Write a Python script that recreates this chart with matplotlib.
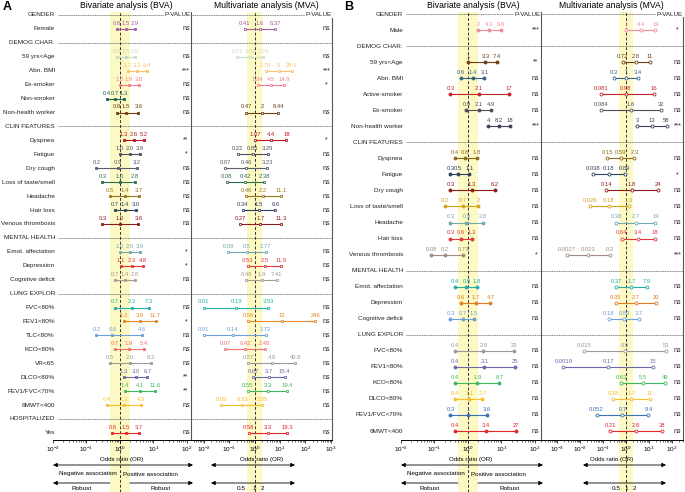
import numpy as np
import matplotlib
matplotlib.use("Agg")
from matplotlib import pyplot as plt
from matplotlib import transforms, ticker
from matplotlib.patches import Rectangle, FancyArrowPatch

plt.rcParams['font.family'] = ['Liberation Sans', 'DejaVu Sans']
plt.rcParams['mathtext.default'] = 'regular'

nan = np.nan

# ---------------- panel A ----------------
A_sections = ["GENDER", "DEMOG CHAR.", "CLIN FEATURES", "MENTAL HEALTH", "LUNG EXPLOR", "HOSPITALIZED"]
A_section_sizes = [1, 5, 7, 3, 8, 1]
A_vars = ["Female", "59 yrs<Age", "Abn. BMI", "Ex-smoker", "Non-smoker", "Non-health worker",
          "Dyspnea", "Fatigue", "Dry cough", "Loss of taste/smell", "Headache", "Hair loss",
          "Venous thrombosis", "Emot. affectation", "Depression", "Cognitive deficit",
          "FVC<80%", "FEV1<80%", "TLC<80%", "KCO<80%", "VR<65", "DLCO<80%", "FEV1/FVC<70%",
          "6MWT<400", "Yes"]
A_bva_low = [0.8, 0.8, 1.7, 1.0, 0.4, 0.8, 1.3, 1.0, 0.2, 0.3, 0.5, 0.7, 0.3, 1.0, 1.1, 0.7,
             0.7, 1.3, 0.2, 0.7, 0.5, 1.3, 1.4, 0.4, 0.6]
A_bva_or = [1.5, 1.5, 3.3, 1.9, 0.7, 1.5, 2.6, 2.0, 0.9, 1.0, 1.4, 1.4, 1.0, 2.0, 2.3, 1.4,
            2.3, 3.9, 0.6, 1.9, 2.0, 3.0, 4.1, 1.3, 1.5]
A_bva_high = [2.9, 2.9, 6.4, 3.8, 1.3, 3.6, 5.2, 3.9, 3.2, 2.8, 3.7, 3.0, 3.6, 3.9, 4.8, 2.8,
              7.3, 11.7, 4.6, 5.4, 8.3, 6.7, 11.6, 4.3, 3.7]
A_bva_p = ["ns", "ns", "***", "ns", "ns", "ns", "**", "*", "ns", "ns", "ns", "ns", "ns", "*", "*",
           "ns", "ns", "*", "ns", "ns", "ns", "**", "**", "ns", "ns"]
A_mva_low = [0.41, 0.21, 2.76, 1.34, nan, 0.47, 1.07, 0.22, 0.07, 0.08, 0.46, 0.34, 0.27, 0.09,
             0.53, 0.48, 0.01, 0.56, 0.01, 0.07, 0.57, 0.87, 0.55, 0.05, 0.58]
A_mva_or = [1.6, 0.68, 9, 4.5, nan, 2, 4.4, 0.85, 0.46, 0.42, 2.2, 1.5, 1.7, 0.5, 2.5, 1.9,
            0.19, 12, 0.14, 0.42, 4.8, 3.7, 3.3, 0.33, 3.3]
A_mva_high = [6.37, 2.24, 29.1, 14.9, nan, 8.44, 18, 3.29, 3.23, 2.38, 11.1, 6.6, 11.3, 2.77,
              11.5, 7.41, 3.53, 246, 2.72, 2.48, 40.8, 15.4, 19.4, 2.05, 19.3]
A_mva_p = ["ns", "ns", "***", "*", "", "ns", "*", "ns", "ns", "ns", "ns", "ns", "ns", "ns", "ns",
           "ns", "ns", "ns", "ns", "ns", "ns", "ns", "ns", "ns", "ns"]
A_colors = ['#a0609c', '#c6dcc2', '#f8c46a', '#f47f90', '#1d5e50', '#6e3f12', '#b8151f', '#4e4e5c',
            '#5c5c6e', '#2f6e4c', '#9a7420', '#2e4260', '#8c1c1c', '#74a9ad', '#e2383d', '#a99a91',
            '#23aea6', '#e5862a', '#6f9fd8', '#f46e6e', '#9b9b9b', '#6b6aa6', '#3dba5e', '#f6bd2c',
            '#e5262c']
A_bva_ticks = [1e-2, 1e-1, 1, 1e1, 1e2]
A_mva_ticks = [1e-2, 1e-1, 1, 1e1, 1e2, 1e3]

# ---------------- panel B ----------------
B_sections = ["GENDER", "DEMOG CHAR.", "CLIN FEATURES", "MENTAL HEALTH", "LUNG EXPLOR"]
B_section_sizes = [1, 5, 7, 3, 6]
B_vars = ["Male", "59 yrs<Age", "Abn. BMI", "Active-smoker", "Ex-smoker", "Non-health worker",
          "Dyspnea", "Fatigue", "Dry cough", "Loss of taste/smell", "Headache", "Hair loss",
          "Venous thrombosis", "Emot. affectation", "Depression", "Cognitive deficit",
          "FVC<80%", "FEV1<80%", "KCO<80%", "DLCO<80%", "FEV1/FVC<70%", "6MWT<400"]
B_bva_low = [2, 1, 0.6, 0.3, 0.9, 4, 0.4, 0.3, 0.3, 0.2, 0.3, 0.3, 0.08, 0.4, 0.6, 0.3,
             0.4, 0.4, 0.4, 0.4, 0.3, 0.4]
B_bva_or = [4.3, 3.3, 1.4, 2.1, 2.1, 8.2, 0.8, 0.5, 1.3, 0.7, 0.9, 0.6, 0.2, 0.9, 1.7, 0.7,
            2.9, 3.1, 1.9, 1.1, 1.0, 3.4]
B_bva_high = [9.6, 7.4, 3.1, 17, 4.9, 18, 1.8, 1.1, 6.2, 2, 2.8, 1.3, 0.73, 1.8, 4.7, 1.5,
              23, 25, 8.7, 2.7, 3.6, 27]
B_bva_p = ["***", "**", "ns", "ns", "ns", "***", "ns", "ns", "ns", "ns", "ns", "ns", "*", "ns",
           "ns", "ns", "ns", "ns", "ns", "ns", "ns", "ns"]
B_mva_low = [1, 0.72, 0.3, 0.081, 0.084, 3, 0.15, 0.038, 0.14, 0.026, 0.38, 0.64, 0.0027, 0.37,
             0.35, 0.18, 0.015, 0.0019, 0.63, 0.28, 0.052, 0.21]
B_mva_or = [4.4, 2.8, 1, 0.98, 1.6, 13, 0.59, 0.18, 1.8, 0.18, 2.7, 3.4, 0.023, 1.7, 2.7, 0.83,
            0.9, 0.17, 5.5, 1.7, 0.7, 2.8]
B_mva_high = [19, 11, 3.4, 16, 32, 58, 2.3, 0.89, 24, 1.3, 19, 18, 0.2, 7.9, 20, 3.7,
              53, 15, 49, 11, 9.4, 38]
B_mva_p = ["*", "ns", "ns", "ns", "ns", "***", "ns", "*", "ns", "ns", "ns", "ns", "***", "ns",
           "ns", "ns", "ns", "ns", "ns", "ns", "ns", "ns"]
B_colors = ['#f58a9b', '#6e3f12', '#3b6088', '#c4242a', '#4e4e58', '#3f3f58', '#8c6a16', '#2e4260',
            '#8c1c1c', '#d4a21a', '#74a9ad', '#e2383d', '#a08c82', '#23aea6', '#e07d22', '#6f9fd8',
            '#9b9b9b', '#6b6aa6', '#3dba5e', '#f6bd2c', '#3a72b2', '#e5262c']
B_bva_ticks = [1e-2, 1e-1, 1, 1e1, 1e2]
B_mva_ticks = [1e-3, 1e-2, 1e-1, 1, 1e1, 1e2]

W, H = 685, 492
AX_TOP, AX_BOT = 12, 440
BAND = '#fcf9c4'
LBL = 4.6
VAL = 4.2
PV = 5.0

fig = plt.figure(figsize=(W / 100, H / 100), dpi=100)


def px_axes(x0, x1):
    return fig.add_axes([x0 / W, 1 - AX_BOT / H, (x1 - x0) / W, (AX_BOT - AX_TOP) / H])


def ftext(x, y, s, **kw):
    fig.text(x / W, 1 - y / H, s, **kw)


def arrow(x0, x1, y, style):
    fig.add_artist(FancyArrowPatch(
        (x0 / W, 1 - y / H), (x1 / W, 1 - y / H), transform=fig.transFigure,
        arrowstyle=style, mutation_scale=6, lw=0.6, color='black', shrinkA=0, shrinkB=0))


def row_layout(sizes):
    heads, rows = [], []
    r = 0
    for n in sizes:
        heads.append(r)
        rows.extend(range(r + 1, r + 1 + n))
        r += n + 1
    return heads, rows


def minor_ticks(major, lim):
    out = []
    for d in range(int(np.floor(np.log10(lim[0]))), int(np.ceil(np.log10(lim[1])))):
        for k in range(2, 10):
            v = k * 10.0 ** d
            if lim[0] <= v <= lim[1]:
                out.append(v)
    return out


def setup(ax, lim, ylim, mva, xticks):
    ax.set_xscale('log')
    ax.set_facecolor('none')
    ax.set_yticks([])
    ax.xaxis.set_major_locator(ticker.FixedLocator(xticks))
    ax.xaxis.set_major_formatter(ticker.LogFormatterSciNotation())
    ax.xaxis.set_minor_locator(ticker.FixedLocator(minor_ticks(xticks, lim)))
    ax.xaxis.set_minor_formatter(ticker.NullFormatter())
    ax.tick_params(axis='x', which='major', labelsize=4.6, length=2, width=0.5, pad=1.2)
    ax.tick_params(axis='x', which='minor', length=1.2, width=0.4)
    ax.spines['top'].set_visible(False)
    for s in ['left', 'right']:
        ax.spines[s].set_visible(mva)
        ax.spines[s].set_color('#555555')
        ax.spines[s].set_linewidth(0.8)
    ax.spines['bottom'].set_linewidth(0.7)
    ax.set_xlabel('Odds ratio (OR)', fontsize=4.4, labelpad=2)
    # yellow band and reference line, running down to the figure bottom
    tr = transforms.blended_transform_factory(ax.transData, fig.transFigure)
    top = 1 - AX_TOP / H
    ax.add_patch(Rectangle((0.5, 0), 1.5, top, transform=tr, facecolor=BAND,
                           edgecolor='none', clip_on=False, zorder=0))
    ax.plot([1, 1], [0, top], transform=tr, color='#333333', lw=0.7,
            ls=(0, (3, 2)), clip_on=False, zorder=1)
    ax.set_xlim(*lim)
    ax.set_ylim(*ylim)


def forest(ax, rows, low, mid, high, pvals, colors, fmt, marker, filled, ms, px):
    ytr = transforms.blended_transform_factory(ax.transAxes, ax.transData)
    for r, lo, m, hi, p, c in zip(rows, low, mid, high, pvals, colors):
        if p:
            ax.text(px, r, p, transform=ytr, ha='center', va='center', fontsize=PV,
                    color='#222222')
        if np.isnan(m):
            continue
        ax.plot([lo, hi], [r, r], color=c, lw=0.8, zorder=3)
        ax.plot([lo, m, hi], [r, r, r], ls='none', marker=marker, ms=ms,
                mfc=c if filled else 'white', mec=c, mew=0.6, zorder=4)
        for v in (lo, m, hi):
            ax.annotate(fmt(v), (v, r), xytext=(0, 4.0), textcoords='offset points',
                        ha='center', va='center', fontsize=VAL, color=c, zorder=5)


def panel(letter, xs, lims, ticks, ylim, sections, sizes, names, colors, bva, mva,
          bva_fmt, marker, ms, title_x, arrows_mva, mva_lbl):
    x0, xm, x1 = xs
    ax_b = px_axes(x0, xm)
    ax_m = px_axes(xm, x1)
    setup(ax_b, lims[0], ylim, False, ticks[0])
    setup(ax_m, lims[1], ylim, True, ticks[1])
    heads, rows = row_layout(sizes)

    tb = transforms.blended_transform_factory(ax_b.transAxes, ax_b.transData)
    tm = transforms.blended_transform_factory(ax_m.transAxes, ax_m.transData)
    wb = xm - x0
    for r, s in zip(heads, sections):
        ax_b.text(2 / wb, r, s, transform=tb, ha='right', va='center', fontsize=LBL, color='#222222')
        ax_b.plot([5 / wb, 1], [r, r], transform=tb, color='#555555', lw=0.5,
                  ls=(0, (1.6, 0.9)), zorder=2, clip_on=False)
        ax_m.plot([0, 1], [r, r], transform=tm, color='#555555', lw=0.5,
                  ls=(0, (1.6, 0.9)), zorder=2, clip_on=False)
    for r, s in zip(rows, names):
        ax_b.text(2 / wb, r, s, transform=tb, ha='right', va='center', fontsize=LBL, color='#222222')
    for ax, tr in ((ax_b, tb), (ax_m, tm)):
        ax.text(1, heads[0], 'P-VALUE', transform=tr, ha='right', va='center', fontsize=4.5,
                color='#222222', zorder=6,
                bbox=dict(facecolor='white', edgecolor='none', pad=0.6))

    forest(ax_b, rows, *bva, colors, bva_fmt, marker, True, ms, 0.963)
    forest(ax_m, rows, *mva, colors, lambda v: '%g' % v, marker, False, ms, 0.962)

    ftext(x0 - 50 if letter == 'A' else x0 - 57, 7, letter, fontsize=9, fontweight='bold',
          ha='left', va='center')
    ftext(title_x[0], 6, 'Bivariate analysis (BVA)', fontsize=6.2, ha='center', va='center')
    ftext(title_x[1], 6, 'Multivariate analysis (MVA)', fontsize=6.2, ha='center', va='center')

    # BVA association arrows
    xb1 = x0 + (np.log10(1) - np.log10(lims[0][0])) / np.log10(lims[0][1] / lims[0][0]) * wb
    arrow(x0, xm + 2, 465, '<|-|>')
    ftext(xb1 - 3, 474, 'Negative association', fontsize=4.5, ha='right', va='center')
    ftext(xb1 + 3, 474, 'Positive association', fontsize=4.5, ha='left', va='center')
    arrow(xb1 - 10, x0, 483, '-|>')
    arrow(xb1 + 10, xm + 2, 483, '-|>')
    ftext((x0 + xb1 - 10) / 2, 489, 'Robust', fontsize=4.6, ha='center', va='center')
    ftext((xb1 + 10 + xm) / 2, 489, 'Robust', fontsize=4.6, ha='center', va='center')

    # MVA arrows
    a0, a1 = arrows_mva
    arrow(a0, a1, 465, '<|-|>')
    arrow(a0, a1, 483, '<|-|>')
    for dx, s in zip(mva_lbl, ['0.5', '1', '2']):
        ftext(dx, 489, s, fontsize=4.6, ha='center', va='center')


panel('A', (53, 191, 332), [(1e-2, 10 ** 2.13), (10 ** -2.5, 10 ** 3.05)],
      (A_bva_ticks, A_mva_ticks), (30.51, -0.215),
      A_sections, A_section_sizes, A_vars, A_colors,
      (A_bva_low, A_bva_or, A_bva_high, A_bva_p), (A_mva_low, A_mva_or, A_mva_high, A_mva_p),
      lambda v: '%.1f' % v, 's', 1.8, (126, 266), (211, 295), (241, 254.5, 262))

panel('B', (401, 541, 683), [(1e-2, 10 ** 2.18), (10 ** -3.7, 10 ** 2.48)],
      (B_bva_ticks, B_mva_ticks), (26.56, -0.125),
      B_sections, B_section_sizes, B_vars, B_colors,
      (B_bva_low, B_bva_or, B_bva_high, B_bva_p), (B_mva_low, B_mva_or, B_mva_high, B_mva_p),
      lambda v: '%g' % v, 'o', 2.2, (473, 611), (583, 666), (616, 626, 634))

fig.savefig('out.png', dpi=100)
